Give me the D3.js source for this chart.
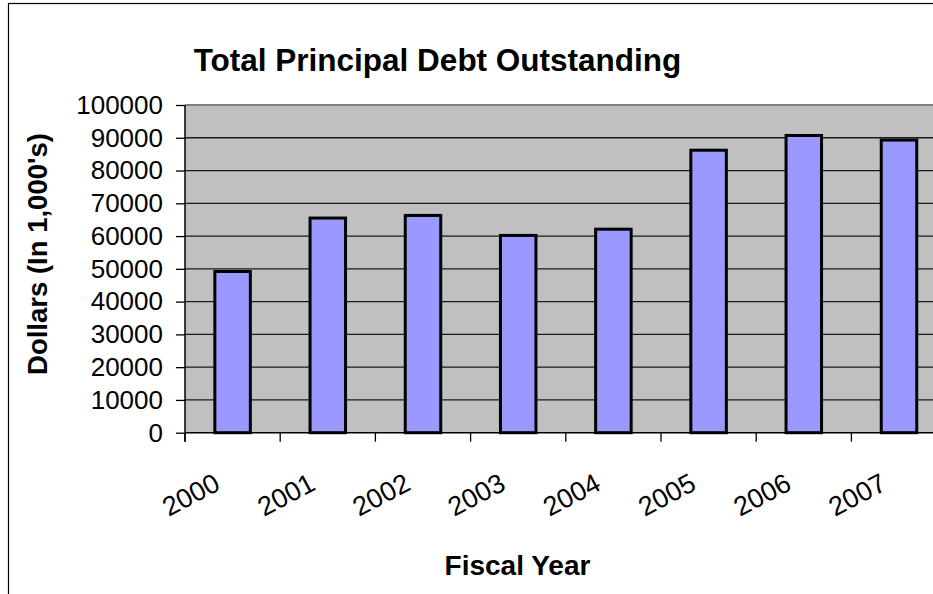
<!DOCTYPE html>
<html>
<head>
<meta charset="utf-8">
<script src="https://cdn.jsdelivr.net/npm/d3@7"></script>
<style>
  html, body { margin: 0; padding: 0; background: #fff; }
  svg { display: block; font-family: "Liberation Sans", Arial, sans-serif; }
</style>
</head>
<body>
<svg id="chart" width="933" height="594"></svg>
<script>
const years = ["2000", "2001", "2002", "2003", "2004", "2005", "2006", "2007"];
const debt = [49200, 65500, 66300, 60200, 62100, 86200, 90700, 89300];
const yTicks = [0, 10000, 20000, 30000, 40000, 50000, 60000, 70000, 80000, 90000, 100000];

const svg = d3.select("#chart");
const W = 933, H = 594;

// outer chart border (only left/top visible)
svg.append("rect").attr("x", 8.5).attr("y", 3.5).attr("width", 1000).attr("height", 700)
  .attr("fill", "#fff").attr("stroke", "#000").attr("stroke-width", 1.2);

const plot = { left: 185, top: 105, bottom: 432.7 };
const band = 95.2;
const x = d3.scaleBand().domain(years).range([plot.left, plot.left + band * years.length]).paddingInner(0).paddingOuter(0);
const y = d3.scaleLinear().domain([0, 100000]).range([plot.bottom, plot.top]);

// plot background
svg.append("rect").attr("x", plot.left).attr("y", plot.top)
  .attr("width", W - plot.left + 20).attr("height", plot.bottom - plot.top)
  .attr("fill", "#C0C0C0");

// gridlines
svg.append("g").selectAll("line").data(yTicks.filter(d => d > 0 && d < 100000)).join("line")
  .attr("x1", plot.left).attr("x2", W + 10)
  .attr("y1", d => y(d)).attr("y2", d => y(d))
  .attr("stroke", "#1a1a1a").attr("stroke-width", 1.3);

// plot top border
svg.append("line").attr("x1", plot.left).attr("x2", W + 10)
  .attr("y1", y(100000)).attr("y2", y(100000))
  .attr("stroke", "#808080").attr("stroke-width", 2);

// bars
const bw = 35.5;
svg.append("g").selectAll("rect").data(years).join("rect")
  .attr("x", (d) => x(d) + x.bandwidth() / 2 - bw / 2)
  .attr("y", (d, i) => y(debt[i]))
  .attr("width", bw)
  .attr("height", (d, i) => y(0) - y(debt[i]))
  .attr("fill", "#9999FF")
  .attr("stroke", "#000").attr("stroke-width", 3);

// y axis
const yAxis = d3.axisLeft(y).tickValues(yTicks).tickSize(9).tickPadding(13).tickFormat(d3.format("d"));
const gy = svg.append("g").attr("transform", `translate(${plot.left},0)`).call(yAxis);
gy.select(".domain").attr("stroke", "#000").attr("stroke-width", 1.5).attr("d", `M0,${plot.top}V${plot.bottom + 9}`);
gy.selectAll(".tick line").attr("stroke", "#000").attr("stroke-width", 1.3);
gy.selectAll(".tick text").attr("fill", "#000").style("font-size", "26px")
  .style("font-family", '"Liberation Sans", Arial, sans-serif');

// x axis
const xAxis = d3.axisBottom(x).tickSize(0).tickFormat("");
const gx = svg.append("g").attr("transform", `translate(0,${plot.bottom})`).call(xAxis);
gx.select(".domain").attr("stroke", "#000").attr("stroke-width", 1.5).attr("d", `M${plot.left},0H${W + 10}`);
// boundary ticks
svg.append("g").selectAll("line").data(years).join("line")
  .attr("x1", d => x(d)).attr("x2", d => x(d))
  .attr("y1", plot.bottom).attr("y2", plot.bottom + 9)
  .attr("stroke", "#000").attr("stroke-width", 1.3);

// rotated x labels
svg.append("g").selectAll("text").data(years).join("text")
  .attr("transform", d => `translate(${x(d) + 6},495) rotate(-28)`)
  .attr("text-anchor", "middle")
  .attr("dominant-baseline", "central")
  .style("font-size", "27px")
  .attr("fill", "#000")
  .text(d => d);

// title
svg.append("text").attr("x", 437.5).attr("y", 70.5).attr("text-anchor", "middle")
  .style("font-size", "31.5px").style("font-weight", "bold").text("Total Principal Debt Outstanding");

// y title
svg.append("text").attr("transform", "translate(47,254) rotate(-90)").attr("text-anchor", "middle")
  .style("font-size", "27.5px").style("font-weight", "bold").text("Dollars (In 1,000's)");

// x title
svg.append("text").attr("x", 517.5).attr("y", 575).attr("text-anchor", "middle")
  .style("font-size", "28px").style("font-weight", "bold").text("Fiscal Year");
</script>
</body>
</html>
